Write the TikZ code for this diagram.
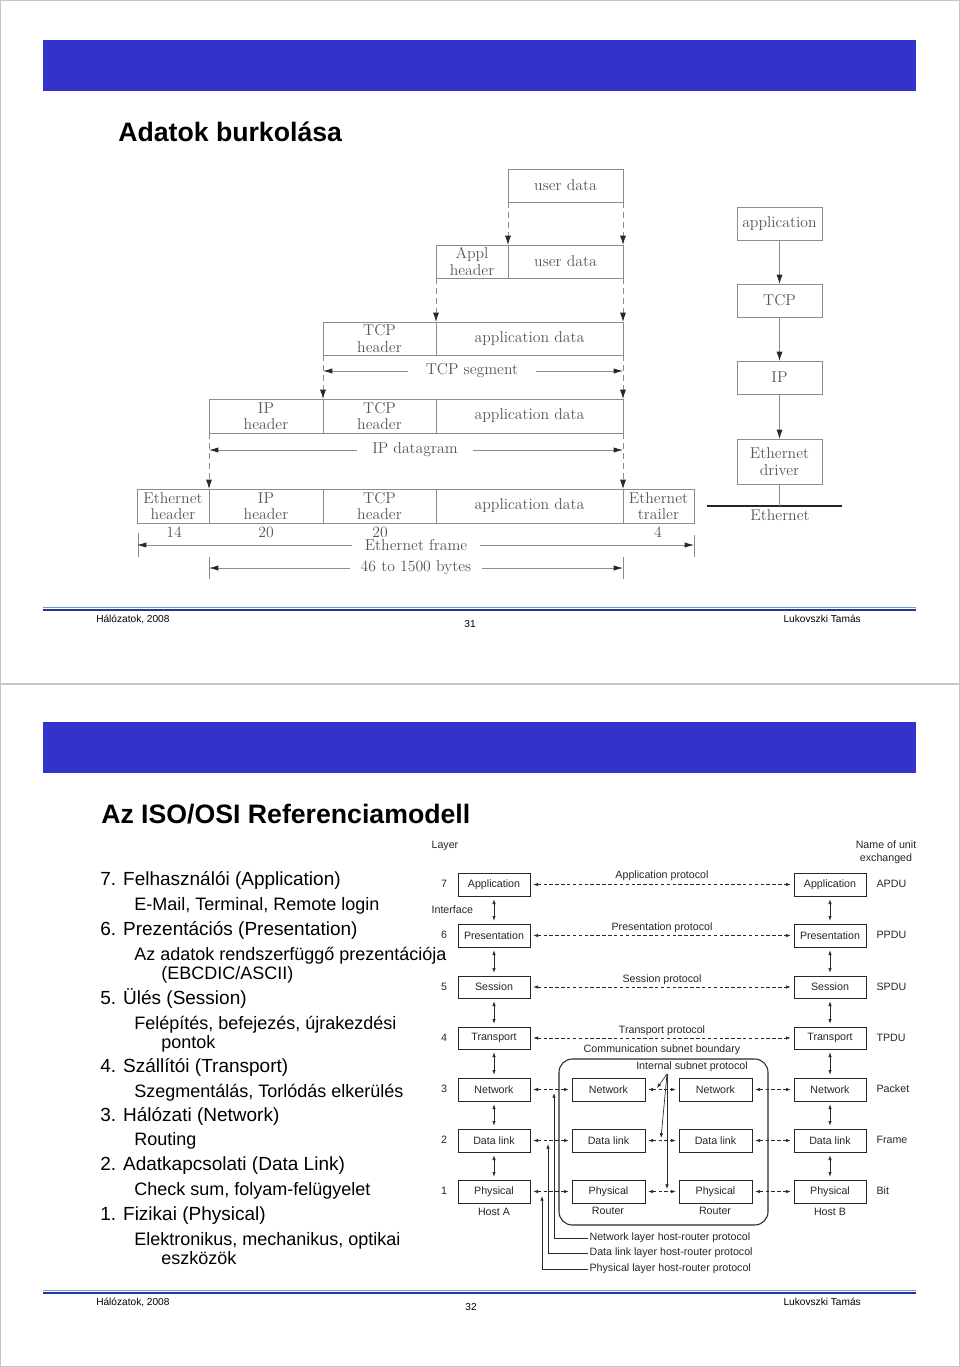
\documentclass[tikz,border=0pt]{standalone}
\usepackage{fontspec}
\setsansfont{Liberation Sans}
\usetikzlibrary{arrows.meta}
\definecolor{banner}{RGB}{51,51,204}
\definecolor{fdark}{RGB}{35,55,145}
\definecolor{flight}{RGB}{110,150,220}
\definecolor{scanln}{RGB}{140,140,140}
\definecolor{scantext}{RGB}{85,85,85}
\definecolor{scanarr}{RGB}{40,40,40}
\definecolor{osiline}{RGB}{40,40,40}
\newcommand{\pbox}[7][]{\node[#1,minimum width={(#5-#3)*0.75pt},minimum height={(#6-#4)*0.75pt}] (#2) at ({(#3+#5)/2},{(#4+#6)/2}) {#7};}
\begin{document}
\begin{tikzpicture}[x=0.75pt,y=-0.75pt,
  scanbox/.style={draw=scanln, line width=0.6pt, text=scantext, font=\fontsize{11.8}{12.2}\selectfont, align=center, inner sep=0pt, outer sep=0pt},
  scantxt/.style={text=scantext, font=\fontsize{11.8}{12}\selectfont, inner sep=0pt},
  dimlab/.style={scantxt, fill=white, inner ysep=2pt},
  dashconn/.style={draw=scanln, line width=0.6pt, dash pattern=on 4.5pt off 3pt, -{Latex[length=7pt,width=4.5pt,color=scanarr]}},
  dimline/.style={draw=scanln, line width=0.6pt, -{Latex[length=7pt,width=4pt,color=scanarr]}},
  stackarrow/.style={draw=scanln, line width=0.6pt, -{Latex[length=7pt,width=4.5pt,color=scanarr]}},
  tickln/.style={draw=scanln, line width=0.6pt},
  osibox/.style={draw=osiline, line width=0.6pt, fill=white, font=\sffamily\fontsize{8}{9}\selectfont, text=black!85, inner sep=0pt, outer sep=0pt},
  ositxt/.style={font=\sffamily\fontsize{8}{9.5}\selectfont, text=black!85, inner sep=1pt},
  proto/.style={draw=osiline, line width=0.5pt, dash pattern=on 2.6pt off 1.8pt, {Latex[length=3.5pt,width=2.6pt]}-{Latex[length=3.5pt,width=2.6pt]}, shorten <=2.5pt, shorten >=2.5pt},
  updown/.style={draw=osiline, line width=0.5pt, {Latex[length=3.5pt,width=2.6pt]}-{Latex[length=3.5pt,width=2.6pt]}, shorten <=2.5pt, shorten >=2.5pt},
  legarrow/.style={draw=osiline, line width=0.6pt, -{Latex[length=3.5pt,width=2.6pt]}},
  listtxt/.style={font=\sffamily\fontsize{14.25}{17}\selectfont, anchor=base west, inner sep=0pt},
  listsub/.style={font=\sffamily\fontsize{13.5}{16}\selectfont, anchor=base west, inner sep=0pt},
  ttl/.style={font=\sffamily\bfseries\fontsize{20}{24}\selectfont, anchor=base west, inner sep=0pt},
  foot/.style={font=\sffamily\fontsize{7.6}{8.5}\selectfont, inner sep=0pt}
]
\useasboundingbox (0,0) rectangle (960,1367);
% slide frames
\draw[gray!45, line width=0.6pt] (0.5,0.5) rectangle (959.5,683.5);
\draw[gray!45, line width=0.6pt] (0.5,684.5) rectangle (959.5,1366.5);

%================ SLIDE 1 ================
\fill[banner] (43,40) rectangle (916,91);
\node[ttl] (t1) at (118,141) {Adatok burkolása};

% encapsulation rows
\pbox[scanbox]{ud1}{508}{169}{623}{202}{user data}
\pbox[scanbox]{ah}{436}{245}{508}{278}{Appl\\header}
\pbox[scanbox]{ud2}{508}{245}{623}{278}{user data}
\pbox[scanbox]{th3}{323}{322}{436}{355}{TCP\\header}
\pbox[scanbox]{ad3}{436}{322}{623}{355}{application data}
\pbox[scanbox]{ip4}{209}{399}{323}{433}{IP\\header}
\pbox[scanbox]{th4}{323}{399}{436}{433}{TCP\\header}
\pbox[scanbox]{ad4}{436}{399}{623}{433}{application data}
\pbox[scanbox]{eh5}{137}{489}{209}{523}{Ethernet\\header}
\pbox[scanbox]{ip5}{209}{489}{323}{523}{IP\\header}
\pbox[scanbox]{th5}{323}{489}{436}{523}{TCP\\header}
\pbox[scanbox]{ad5}{436}{489}{623}{523}{application data}
\pbox[scanbox]{et5}{623}{489}{694}{523}{Ethernet\\trailer}

\draw[dashconn] (ud1.south west) -- (ud2.north west);
\draw[dashconn] (ud1.south east) -- (ud2.north east);
\draw[dashconn] (ah.south west) -- (ad3.north west);
\draw[dashconn] (ud2.south east) -- (ad3.north east);
\draw[dashconn] (th3.south west) -- (th4.north west);
\draw[dashconn] (ad3.south east) -- (ad4.north east);
\draw[dashconn] (ip4.south west) -- (ip5.north west);
\draw[dashconn] (ad4.south east) -- (ad5.north east);

\node[dimlab, inner xsep=13pt] (tseg) at (472,371) {TCP segment};
\draw[dimline] (tseg.west) -- (th3.south west |- tseg.west);
\draw[dimline] (tseg.east) -- (ad3.south east |- tseg.east);
\node[dimlab, inner xsep=11pt] (ipd) at (415,450) {IP datagram};
\draw[dimline] (ipd.west) -- (ip4.south west |- ipd.west);
\draw[dimline] (ipd.east) -- (ad4.south east |- ipd.east);

\node[scantxt] (n14) at (174,532) {14};
\node[scantxt] (n20a) at (266,532) {20};
\node[scantxt] (n20b) at (380,532) {20};
\node[scantxt] (n4) at (658,532) {4};

\draw[tickln] (138,533) -- (138,557);
\draw[tickln] (694,535) -- (694,557);
\draw[tickln] (209,557) -- (209,579);
\draw[tickln] (623,557) -- (623,579);
\node[dimlab, inner xsep=9pt] (efr) at (416,545) {Ethernet frame};
\draw[dimline] (efr.west) -- (eh5.south west |- efr.west);
\draw[dimline] (efr.east) -- (et5.south east |- efr.east);
\node[dimlab, inner xsep=8pt] (byt) at (416,568) {46 to 1500 bytes};
\draw[dimline] (byt.west) -- (ip5.south west |- byt.west);
\draw[dimline] (byt.east) -- (ad5.south east |- byt.east);

% protocol stack
\pbox[scanbox]{sapp}{737}{207}{822}{240}{application}
\pbox[scanbox]{stcp}{737}{284}{822}{317}{TCP}
\pbox[scanbox]{sip}{737}{361}{822}{394}{IP}
\pbox[scanbox]{sdrv}{737}{439}{822}{484}{Ethernet\\driver}
\draw[stackarrow] (sapp) -- (stcp);
\draw[stackarrow] (stcp) -- (sip);
\draw[stackarrow] (sip) -- (sdrv);
\coordinate (ethL) at (707,506);
\coordinate (ethR) at (842,506);
\draw[line width=2.2pt, black!85] (ethL) -- (ethR);
\draw[tickln] (sdrv.south) -- (sdrv.south |- ethL);
\node[scantxt, anchor=north] (ethlab) at (780,509.5) {Ethernet};

% footer 1
\draw[flight, line width=0.8pt] (43,607.5) -- (916,607.5);
\draw[fdark, line width=1.6pt] (43,610) -- (916,610);
\node[foot, anchor=base west] (f1l) at (96,622) {Hálózatok, 2008};
\node[foot, anchor=base] (f1c) at (470,627) {31};
\node[foot, anchor=base east] (f1r) at (861,622) {Lukovszki Tamás};

%================ SLIDE 2 ================
\fill[banner] (43,722) rectangle (916,773);
\node[ttl] (t2) at (101,823) {Az ISO/OSI Referenciamodell};

\node[listtxt] (l1) at (100,885) {7. Felhasználói (Application)};
\node[listsub] (l2) at (134,910) {E-Mail, Terminal, Remote login};
\node[listtxt] (l3) at (100,935) {6. Prezentációs (Presentation)};
\node[listsub] (l4) at (134,960) {Az adatok rendszerfüggő prezentációja};
\node[listsub] (l5) at (161,979) {(EBCDIC/ASCII)};
\node[listtxt] (l6) at (100,1004) {5. Ülés (Session)};
\node[listsub] (l7) at (134,1029) {Felépítés, befejezés, újrakezdési};
\node[listsub] (l8) at (161,1048) {pontok};
\node[listtxt] (l9) at (100,1072) {4. Szállítói (Transport)};
\node[listsub] (l10) at (134,1097) {Szegmentálás, Torlódás elkerülés};
\node[listtxt] (l11) at (100,1121) {3. Hálózati (Network)};
\node[listsub] (l12) at (134,1145) {Routing};
\node[listtxt] (l13) at (100,1170) {2. Adatkapcsolati (Data Link)};
\node[listsub] (l14) at (134,1195) {Check sum, folyam-felügyelet};
\node[listtxt] (l15) at (100,1220) {1. Fizikai (Physical)};
\node[listsub] (l16) at (134,1245) {Elektronikus, mechanikus, optikai};
\node[listsub] (l17) at (161,1264) {eszközök};

% OSI diagram
\node[ositxt, anchor=west] (layer) at (430,846) {Layer};
\node[ositxt, anchor=west] (iface) at (430,910) {Interface};
\node[ositxt, align=center] (nameu) at (886,852) {Name of unit\\exchanged};

% subnet boundary
\pbox[draw=osiline, line width=0.8pt, rounded corners=10pt, inner sep=0pt, outer sep=0pt]{subnet}{559}{1059}{768}{1225}{}

% host A
\pbox[osibox]{a7}{458}{873}{530}{896}{Application}
\pbox[osibox]{a6}{458}{924}{530}{947}{Presentation}
\pbox[osibox]{a5}{458}{976}{530}{998}{Session}
\pbox[osibox]{a4}{458}{1027}{530}{1049}{Transport}
\pbox[osibox]{a3}{458}{1078}{530}{1101}{Network}
\pbox[osibox]{a2}{458}{1129}{530}{1152}{Data link}
\pbox[osibox]{a1}{458}{1180}{530}{1203}{Physical}
% host B
\pbox[osibox]{b7}{794}{873}{866}{896}{Application}
\pbox[osibox]{b6}{794}{924}{866}{947}{Presentation}
\pbox[osibox]{b5}{794}{976}{866}{998}{Session}
\pbox[osibox]{b4}{794}{1027}{866}{1049}{Transport}
\pbox[osibox]{b3}{794}{1078}{866}{1101}{Network}
\pbox[osibox]{b2}{794}{1129}{866}{1152}{Data link}
\pbox[osibox]{b1}{794}{1180}{866}{1203}{Physical}
% routers
\pbox[osibox]{r13}{572}{1078}{645}{1101}{Network}
\pbox[osibox]{r12}{572}{1129}{645}{1152}{Data link}
\pbox[osibox]{r11}{572}{1180}{645}{1203}{Physical}
\pbox[osibox]{r23}{679}{1078}{752}{1101}{Network}
\pbox[osibox]{r22}{679}{1129}{752}{1152}{Data link}
\pbox[osibox]{r21}{679}{1180}{752}{1203}{Physical}

% layer numbers
\node[ositxt] (n7) at (444,884) {7};
\node[ositxt] (n6) at (444,935) {6};
\node[ositxt] (n5) at (444,987) {5};
\node[ositxt] (n4b) at (444,1038) {4};
\node[ositxt] (n3) at (444,1089) {3};
\node[ositxt] (n2) at (444,1140) {2};
\node[ositxt] (n1) at (444,1191) {1};

% units
\node[ositxt, anchor=west] (u7) at (875,884) {APDU};
\node[ositxt, anchor=west] (u6) at (875,935) {PPDU};
\node[ositxt, anchor=west] (u5) at (875,987) {SPDU};
\node[ositxt, anchor=west] (u4) at (875,1038) {TPDU};
\node[ositxt, anchor=west] (u3) at (875,1089) {Packet};
\node[ositxt, anchor=west] (u2) at (875,1140) {Frame};
\node[ositxt, anchor=west] (u1) at (875,1191) {Bit};

% host labels
\node[ositxt] (hA) at (494,1212) {Host A};
\node[ositxt] (hB) at (830,1212) {Host B};
\node[ositxt] (ro1) at (608,1211) {Router};
\node[ositxt] (ro2) at (715,1211) {Router};

% vertical interfaces
\foreach \s in {a,b}{
  \draw[updown] (\s7) -- (\s6);
  \draw[updown] (\s6) -- (\s5);
  \draw[updown] (\s5) -- (\s4);
  \draw[updown] (\s4) -- (\s3);
  \draw[updown] (\s3) -- (\s2);
  \draw[updown] (\s2) -- (\s1);
}

% peer protocols
\draw[proto] (a7.east) -- (b7.west);
\draw[proto] (a6.east) -- (b6.west);
\draw[proto] (a5.east) -- (b5.west);
\draw[proto] (a4.east) -- (b4.west);
\node[ositxt] (p7) at (662,876) {Application protocol};
\node[ositxt] (p6) at (662,928) {Presentation protocol};
\node[ositxt] (p5) at (662,980) {Session protocol};
\node[ositxt] (p4) at (662,1031) {Transport protocol};
\node[ositxt] (csb) at (662,1050) {Communication subnet boundary};

\foreach \l in {3,2,1}{
  \draw[proto] (a\l.east) -- (r1\l.west);
  \draw[proto] (r1\l.east) -- (r2\l.west);
  \draw[proto] (r2\l.east) -- (b\l.west);
}

% internal subnet protocol
\node[ositxt] (isp) at (692,1067) {Internal subnet protocol};
\coordinate (ispo) at (667,1074);
\coordinate (isp3) at (657,1088);
\coordinate (isp2) at (661,1138);
\coordinate (isp1) at (667,1189);
\draw[legarrow, line width=0.5pt] (ispo) -- (isp3);
\draw[legarrow, line width=0.5pt] (ispo) -- (isp2);
\draw[legarrow, line width=0.5pt] (ispo) -- (isp1);

% legend
\node[ositxt, anchor=west] (lg3) at (588,1238) {Network layer host-router protocol};
\node[ositxt, anchor=west] (lg2) at (588,1253) {Data link layer host-router protocol};
\node[ositxt, anchor=west] (lg1) at (588,1269) {Physical layer host-router protocol};
\coordinate (tg3) at (554,1093);
\coordinate (tg2) at (548,1144);
\coordinate (tg1) at (542,1196);
\draw[legarrow] (lg3.west) -| (tg3);
\draw[legarrow] (lg2.west) -| (tg2);
\draw[legarrow] (lg1.west) -| (tg1);

% footer 2
\draw[flight, line width=0.8pt] (43,1290.5) -- (916,1290.5);
\draw[fdark, line width=1.6pt] (43,1293) -- (916,1293);
\node[foot, anchor=base west] (f2l) at (96,1305) {Hálózatok, 2008};
\node[foot, anchor=base] (f2c) at (471,1310) {32};
\node[foot, anchor=base east] (f2r) at (861,1305) {Lukovszki Tamás};
\end{tikzpicture}
\end{document}
